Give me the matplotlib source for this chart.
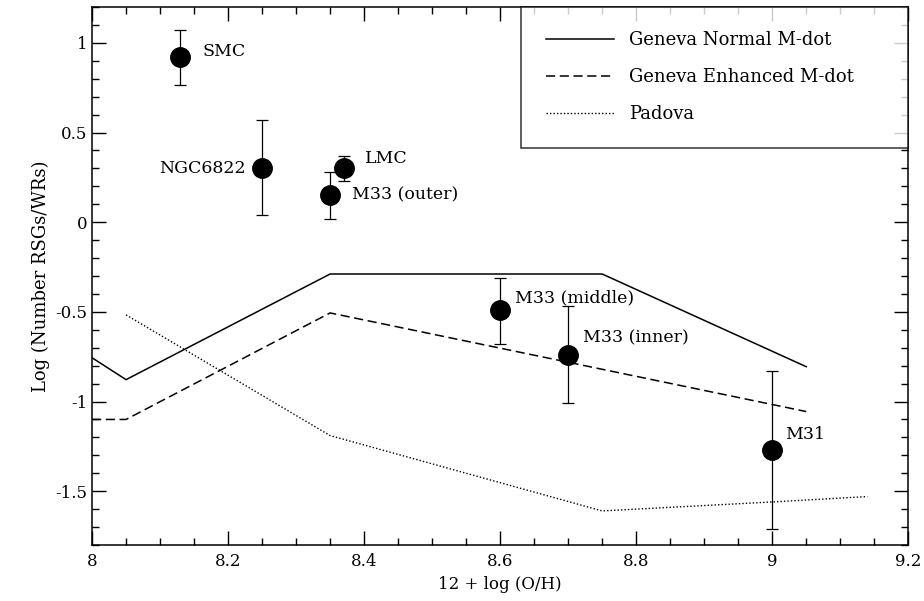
import numpy as np
import matplotlib
matplotlib.use('Agg')
import matplotlib.pyplot as plt
from matplotlib.ticker import MultipleLocator

# ---------------------------------- data ----------------------------------#
galaxies = ['SMC', 'NGC6822', 'LMC', 'M33 (outer)', 'M33 (middle)', 'M33 (inner)', 'M31']
oh = [8.13, 8.25, 8.37, 8.35, 8.60, 8.70, 9.00]
ratio = [0.92, 0.30, 0.30, 0.15, -0.49, -0.74, -1.27]
err_up = [0.15, 0.27, 0.07, 0.13, 0.18, 0.27, 0.44]
err_dn = [0.155, 0.26, 0.07, 0.13, 0.19, 0.27, 0.44]

geneva_normal_x = [8.0, 8.05, 8.35, 8.75, 9.05]
geneva_normal_y = [-0.756, -0.878, -0.289, -0.289, -0.806]

geneva_enh_x = [8.0, 8.05, 8.35, 9.05]
geneva_enh_y = [-1.1, -1.1, -0.506, -1.056]

padova_x = [8.05, 8.35, 8.75, 9.0, 9.14]
padova_y = [-0.517, -1.19, -1.61, -1.56, -1.53]

# label offsets (points) and alignment for each galaxy
label_off = [(16, 4), (-12, 0), (15, 7), (16, 0), (11, 9), (11, 12), (9, 11)]
label_ha = ['left', 'right', 'left', 'left', 'left', 'left', 'left']

# ---------------------------------- plot ----------------------------------#
plt.rcParams['font.family'] = ['DejaVu Serif']

fig = plt.figure(figsize=(9.24, 6.01), dpi=100)
ax = fig.add_axes([0.0996, 0.0932, 0.8834, 0.8952])

ax.plot(geneva_normal_x, geneva_normal_y, 'k-', lw=1.1, label='Geneva Normal M-dot')
ax.plot(geneva_enh_x, geneva_enh_y, 'k--', lw=1.1, dashes=(6, 3), label='Geneva Enhanced M-dot')
ax.plot(padova_x, padova_y, 'k:', lw=1.0, dashes=(1, 1.5), label='Padova')

ax.errorbar(oh, ratio, yerr=[err_dn, err_up], fmt='o', color='k', ms=14,
            ecolor='k', elinewidth=0.9, capsize=4.5, capthick=0.9)

for name, x, y, off, ha in zip(galaxies, oh, ratio, label_off, label_ha):
    ax.annotate(name, (x, y), xytext=off, textcoords='offset points',
                ha=ha, va='center', fontsize=12.5)

ax.set_xlim(8.0, 9.2)
ax.set_ylim(-1.8, 1.2)
ax.xaxis.set_major_locator(MultipleLocator(0.2))
ax.xaxis.set_minor_locator(MultipleLocator(0.05))
ax.yaxis.set_major_locator(MultipleLocator(0.5))
ax.yaxis.set_minor_locator(MultipleLocator(0.1))
ax.xaxis.set_major_formatter(plt.FuncFormatter(lambda v, p: f'{v:g}'))
ax.yaxis.set_major_formatter(plt.FuncFormatter(lambda v, p: f'{v:g}'))
ax.tick_params(which='both', direction='in', top=True, right=True, labelsize=12)
ax.tick_params(which='major', length=10, width=1)
ax.tick_params(which='minor', length=5, width=1)
ax.tick_params(axis='x', pad=6)
for s in ax.spines.values():
    s.set_linewidth(1.1)

ax.set_xlabel('12 + log (O/H)', fontsize=12, labelpad=4)
ax.set_ylabel('Log (Number RSGs/WRs)', fontsize=13)

leg = ax.legend(loc='upper left', bbox_to_anchor=(0.526, 1.0, 0.474, 0.0), mode='expand',
                fontsize=13, frameon=True, fancybox=False,
                edgecolor='k', borderaxespad=0, handlelength=3.8,
                labelspacing=1.05, borderpad=1.35, handletextpad=0.8)
leg.get_frame().set_linewidth(1.1)

plt.savefig('out.png', dpi=100)
plt.close('all')
